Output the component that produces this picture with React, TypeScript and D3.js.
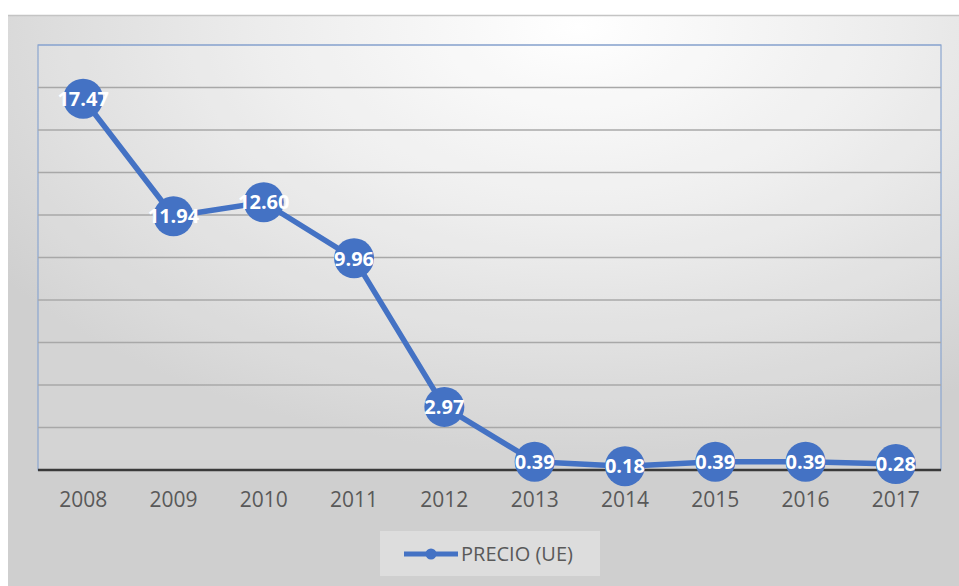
import React from "react";
import * as d3 from "d3";

const years = ["2008", "2009", "2010", "2011", "2012", "2013", "2014", "2015", "2016", "2017"];
const precio = [17.47, 11.94, 12.6, 9.96, 2.97, 0.39, 0.18, 0.39, 0.39, 0.28];
const yTicks = [0, 2, 4, 6, 8, 10, 12, 14, 16, 18, 20];
const seriesName = "PRECIO (UE)";

const W = 959;
const H = 586;
const plot = { left: 38, top: 45, right: 941, bottom: 470 };
const BLUE = "#4472C4";
const FONT = "'Open Sans', 'DejaVu Sans', sans-serif";

export default function App() {
  const x = d3
    .scalePoint<string>()
    .domain(years)
    .range([plot.left, plot.right])
    .padding(0.5);
  const y = d3.scaleLinear().domain([0, 20]).range([plot.bottom, plot.top]);
  const line = d3
    .line<number>()
    .x((_, i) => x(years[i]) as number)
    .y((d) => y(d));

  return (
    <svg
      width={W}
      height={H}
      style={{ position: "absolute", left: 0, top: 0, fontFamily: FONT }}
    >
      <defs>
        <radialGradient id="bg" cx="0.6" cy="0.02" r="0.75">
          <stop offset="0" stopColor="#ffffff" />
          <stop offset="0.45" stopColor="#ececec" />
          <stop offset="1" stopColor="#cfcfcf" />
        </radialGradient>
      </defs>
      <rect x={0} y={0} width={W} height={H} fill="#ffffff" />
      <rect x={8} y={15} width={W - 8} height={H - 15} fill="url(#bg)" />
      <line x1={8} x2={W} y1={15.5} y2={15.5} stroke="#c4c4c4" strokeWidth={1.5} />

      {/* plot area */}
      <rect
        x={plot.left}
        y={plot.top}
        width={plot.right - plot.left}
        height={plot.bottom - plot.top}
        fill="#ffffff"
        fillOpacity={0.12}
        stroke="#8ba6cf"
        strokeWidth={1.2}
      />
      {yTicks.slice(1).map((t) => (
        <line
          key={t}
          x1={plot.left}
          x2={plot.right}
          y1={y(t)}
          y2={y(t)}
          stroke={t === 20 ? "#8ba6cf" : "#a8a8a8"}
          strokeWidth={t === 20 ? 1.2 : 1.5}
        />
      ))}
      <line
        x1={plot.left}
        x2={plot.right}
        y1={plot.bottom}
        y2={plot.bottom}
        stroke="#3a3a3a"
        strokeWidth={2.5}
      />

      {/* x labels */}
      {years.map((yr) => (
        <text
          key={yr}
          x={x(yr)}
          y={507}
          textAnchor="middle"
          fontSize={21}
          fill="#595959"
        >
          {yr}
        </text>
      ))}

      {/* series */}
      <path d={line(precio) || ""} fill="none" stroke={BLUE} strokeWidth={5.5} strokeLinejoin="round" />
      {precio.map((v, i) => (
        <circle key={i} cx={x(years[i])} cy={y(v)} r={20} fill={BLUE} />
      ))}
      {precio.map((v, i) => (
        <text
          key={"l" + i}
          x={x(years[i])}
          y={y(v)}
          dy="0.36em"
          textAnchor="middle"
          fontSize={20}
          fontWeight="bold"
          fill="#ffffff"
        >
          {v.toFixed(2)}
        </text>
      ))}

      {/* legend */}
      <rect x={380} y={531} width={220} height={45} fill="#ffffff" fillOpacity={0.3} />
      <line x1={404} x2={458} y1={554} y2={554} stroke={BLUE} strokeWidth={5} />
      <circle cx={431} cy={554} r={5.5} fill={BLUE} />
      <text x={461} y={561} fontSize={20} fill="#595959">
        {seriesName}
      </text>
    </svg>
  );
}
